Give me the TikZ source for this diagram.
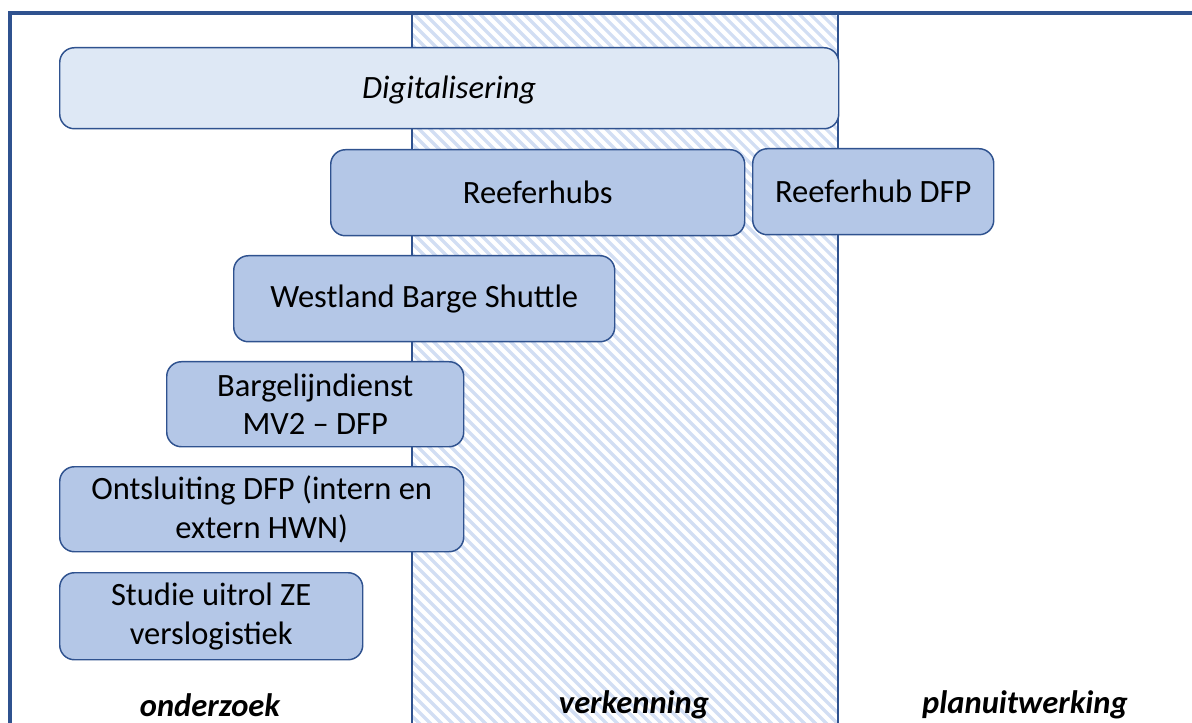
\documentclass[tikz,border=0pt]{standalone}
\usepackage{fontspec}
\setmainfont{Carlito}
\begin{document}
\begin{tikzpicture}[x=0.75pt,y=-0.75pt,
  frame/.style={draw=lineblue,line width=2.7pt},
  divider/.style={draw=lineblue,line width=1.1pt},
  task/.style={draw=lineblue,line width=1.1pt,fill=taskfill,rounded corners=11pt,
    align=center,font=\fontsize{24.4}{29}\selectfont,inner sep=0pt,anchor=north west},
  phase/.style={font=\fontsize{24.4}{29}\selectfont\bfseries\itshape}]
\definecolor{lineblue}{RGB}{47,82,143}
\definecolor{taskfill}{RGB}{180,199,231}
\definecolor{lightfill}{RGB}{222,232,245}
\definecolor{hatch}{RGB}{210,222,243}
\useasboundingbox (0,0) rectangle (1192,723);
% hatched middle column
\begin{scope}
  \clip (412,12) rectangle (838,730);
  \foreach \i in {-748,-737,...,430}
    \draw[hatch,line width=2.4pt] (412+\i,12) -- ++(760,760);
\end{scope}
% column dividers and outer frame
\draw[divider] (412,12) -- (412,730);
\draw[divider] (838,12) -- (838,730);
\draw[frame] (10,730) -- (10,13) -- (1200,13);
% tasks
\node[task,fill=lightfill,minimum width=779*0.75pt,minimum height=81*0.75pt,
  text depth=1pt,font=\fontsize{24.4}{29}\selectfont\itshape] (dig) at (59,47) {Digitalisering};
\node[task,minimum width=414*0.75pt,minimum height=86*0.75pt] (reef) at (330,149) {Reeferhubs};
\node[task,minimum width=241*0.75pt,minimum height=86*0.75pt] (reefdfp) at (752,148) {Reeferhub DFP};
\node[task,minimum width=381*0.75pt,minimum height=86*0.75pt] (wbs) at (233,255) {Westland Barge Shuttle};
\node[task,minimum width=297*0.75pt,minimum height=85*0.75pt] (barge) at (166,361) {Bargelijndienst\\MV2 -- DFP};
\node[task,minimum width=404*0.75pt,minimum height=85*0.75pt] (ont) at (59,466) {Ontsluiting DFP (intern en\\extern HWN)};
\node[task,minimum width=303*0.75pt,minimum height=87*0.75pt] (studie) at (59,572) {Studie uitrol ZE\\verslogistiek};
% phase labels
\node[phase] (p1) at (210,705) {onderzoek};
\node[phase] (p2) at (634,705) {verkenning};
\node[phase] (p3) at (1025,705) {planuitwerking};
\end{tikzpicture}
\end{document}
